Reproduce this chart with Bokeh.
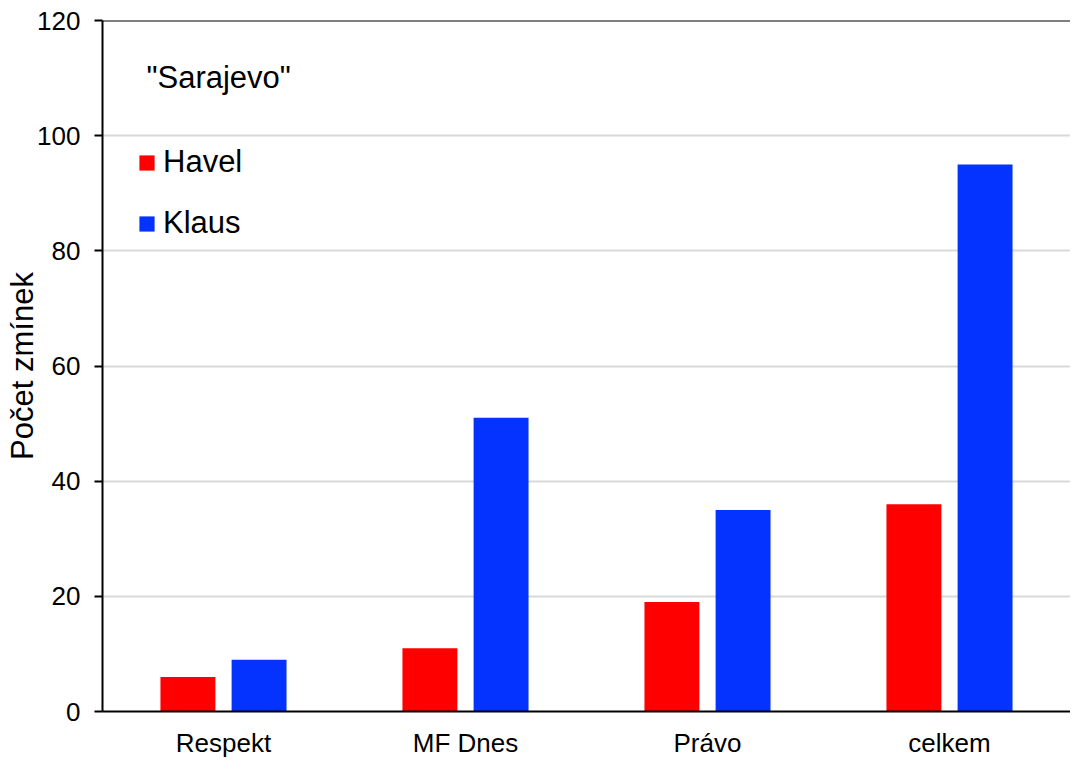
from bokeh.plotting import figure
from bokeh.models import FactorRange, Legend, LegendItem, Label, Span, ColumnDataSource, FixedTicker
from bokeh.transform import dodge
from bokeh.embed import file_html
from bokeh.resources import INLINE

categories = ["Respekt", "MF Dnes", "Právo", "celkem"]
havel = [6, 11, 19, 36]
klaus = [9, 51, 35, 95]
series_names = ["Havel", "Klaus"]
colors = ["#FF0000", "#0433FF"]
y_ticks = [0, 20, 40, 60, 80, 100, 120]
title_text = '"Sarajevo"'
y_label = "Počet zmínek"

FONT = "Liberation Sans"

src = ColumnDataSource(data=dict(cat=categories, havel=havel, klaus=klaus))

p = figure(x_range=FactorRange(*categories, range_padding=0), y_range=(0, 120),
           width=1070, height=760, output_backend="svg", toolbar_location=None,
           min_border_left=102, min_border_right=0, min_border_top=20, min_border_bottom=40)
p.outline_line_color = None
p.background_fill_color = "white"
p.border_fill_color = "white"

r1 = p.vbar(x=dodge("cat", -0.147, range=p.x_range), top="havel", width=0.227,
            source=src, color=colors[0], line_color=None)
r2 = p.vbar(x=dodge("cat", 0.147, range=p.x_range), top="klaus", width=0.227,
            source=src, color=colors[1], line_color=None)

# axes
p.xaxis.major_tick_line_color = None
p.xaxis.minor_tick_line_color = None
p.xaxis.axis_line_color = "black"
p.xaxis.axis_line_width = 2
p.xaxis.major_label_text_font = FONT
p.xaxis.major_label_text_font_size = "26px"
p.xaxis.major_label_text_color = "black"
p.xaxis.major_label_standoff = 10

p.yaxis.ticker = FixedTicker(ticks=y_ticks)
p.yaxis.axis_line_color = "black"
p.yaxis.axis_line_width = 2
p.yaxis.major_tick_line_color = "black"
p.yaxis.major_tick_line_width = 2
p.yaxis.major_tick_out = 8
p.yaxis.major_tick_in = 0
p.yaxis.minor_tick_line_color = None
p.yaxis.major_label_text_font = FONT
p.yaxis.major_label_text_font_size = "26px"
p.yaxis.major_label_text_color = "black"
p.yaxis.major_label_standoff = 14
p.yaxis.axis_label = y_label
p.yaxis.axis_label_text_font = FONT
p.yaxis.axis_label_text_font_size = "31px"
p.yaxis.axis_label_text_font_style = "normal"
p.yaxis.axis_label_text_color = "black"
p.yaxis.axis_label_standoff = -6

p.xgrid.grid_line_color = None
p.ygrid.grid_line_color = "#d9d9d9"
p.ygrid.grid_line_width = 2

top_line = Span(location=y_ticks[-1], dimension="width", line_color="black", line_width=2)
p.add_layout(top_line)

legend = Legend(items=[LegendItem(label=series_names[0], renderers=[r1]),
                       LegendItem(label=series_names[1], renderers=[r2])],
                location=(35, 470))
legend.border_line_color = None
legend.background_fill_alpha = 0
legend.padding = 0
legend.margin = 0
legend.spacing = 25
legend.glyph_width = 19
legend.glyph_height = 19
legend.label_standoff = 7
legend.label_text_font = FONT
legend.label_text_font_size = "31px"
legend.label_text_color = "black"
p.add_layout(legend)

title = Label(x=44, y=634, x_units="screen", y_units="screen", text=title_text,
              text_font=FONT, text_font_size="31px", text_color="black",
              text_baseline="middle", text_align="left")
p.add_layout(title)

open("out.html", "w").write(file_html(p, INLINE))
